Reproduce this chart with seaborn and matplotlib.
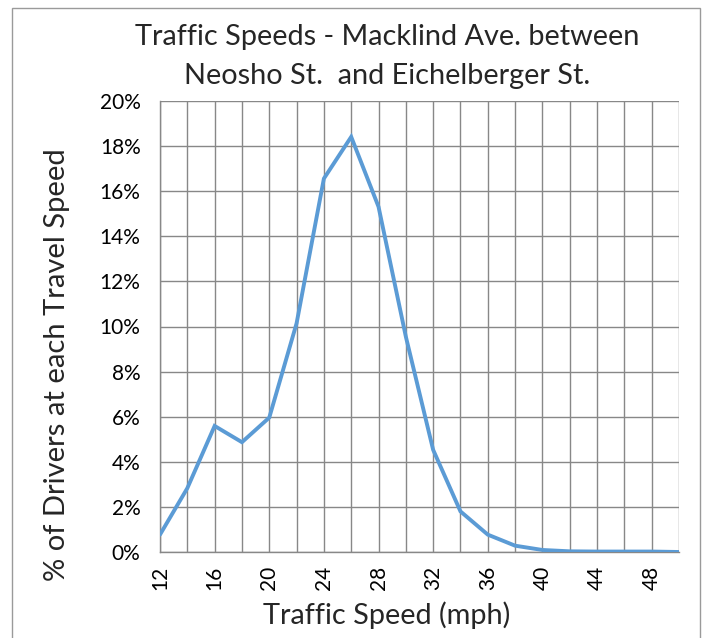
import matplotlib
matplotlib.use("Agg")
import matplotlib.pyplot as plt
import seaborn as sns
import pandas as pd
from matplotlib.patches import Rectangle
from matplotlib.ticker import MultipleLocator, FuncFormatter

speeds = [12, 14, 16, 18, 20, 22, 24, 26, 28, 30, 32, 34, 36, 38, 40, 42, 44, 46, 48, 50]
pct_drivers = [0.77, 2.83, 5.59, 4.87, 5.96, 10.14, 16.56, 18.41, 15.31, 9.55,
               4.53, 1.80, 0.77, 0.28, 0.09, 0.03, 0.02, 0.02, 0.02, 0.0]
x_tick_labels = [12, 16, 20, 24, 28, 32, 36, 40, 44, 48]
title_lines = ["Traffic Speeds - Macklind Ave. between", "Neosho St.  and Eichelberger St."]
x_label = "Traffic Speed (mph)"
y_label = "% of Drivers at each Travel Speed"

df = pd.DataFrame({"speed": speeds, "pct": pct_drivers})

sns.set_style("white")
plt.rcParams["font.family"] = ["Lato", "DejaVu Sans"]

W, H = 705, 638
fig = plt.figure(figsize=(W / 100, H / 100), dpi=100)
L, R, T, B = 160, 679, 101, 552
ax = fig.add_axes([L / W, 1 - B / H, (R - L) / W, (B - T) / H])

grid_c = "#888888"
sns.lineplot(data=df, x="speed", y="pct", ax=ax, color="#5B9BD5", linewidth=2.8,
             solid_joinstyle="miter", zorder=3)

ax.set_xlim(12, 50)
ax.set_ylim(0, 20)
ax.xaxis.set_major_locator(MultipleLocator(2))
ax.yaxis.set_major_locator(MultipleLocator(2))
ax.xaxis.set_major_formatter(FuncFormatter(lambda v, p: f"{int(round(v))}" if int(round(v)) in x_tick_labels else ""))
ax.yaxis.set_major_formatter(FuncFormatter(lambda v, p: f"{int(round(v))}%"))
ax.grid(True, color=grid_c, linewidth=1.0)
for s in ["top", "right"]:
    ax.spines[s].set_visible(False)
for s in ["left", "bottom"]:
    ax.spines[s].set_color(grid_c)
    ax.spines[s].set_linewidth(1.0)
ax.tick_params(axis="both", which="major", length=6, width=1.0, color=grid_c,
               labelsize=15, labelcolor="black", direction="out")
ax.tick_params(axis="x", labelrotation=90, pad=4)
ax.tick_params(axis="y", pad=8)
ax.set_xlabel("")
ax.set_ylabel("")

fig.text(387 / W, 1 - 37 / H, title_lines[0], ha="center", va="center", fontsize=20.8)
fig.text(387 / W, 1 - 76 / H, title_lines[1], ha="center", va="center", fontsize=20.8)
fig.text(387 / W, 1 - 615 / H, x_label, ha="center", va="center", fontsize=20.8)
fig.text(57 / W, 1 - 365 / H, y_label, ha="center", va="center", rotation=90, fontsize=21)

fig.patches.append(Rectangle((12 / W, -0.05), (700 - 12) / W, (1 - 8 / H) + 0.05,
                             transform=fig.transFigure, fill=False,
                             edgecolor="#9a9a9a", linewidth=1.0))

fig.savefig("out.png", dpi=100)
